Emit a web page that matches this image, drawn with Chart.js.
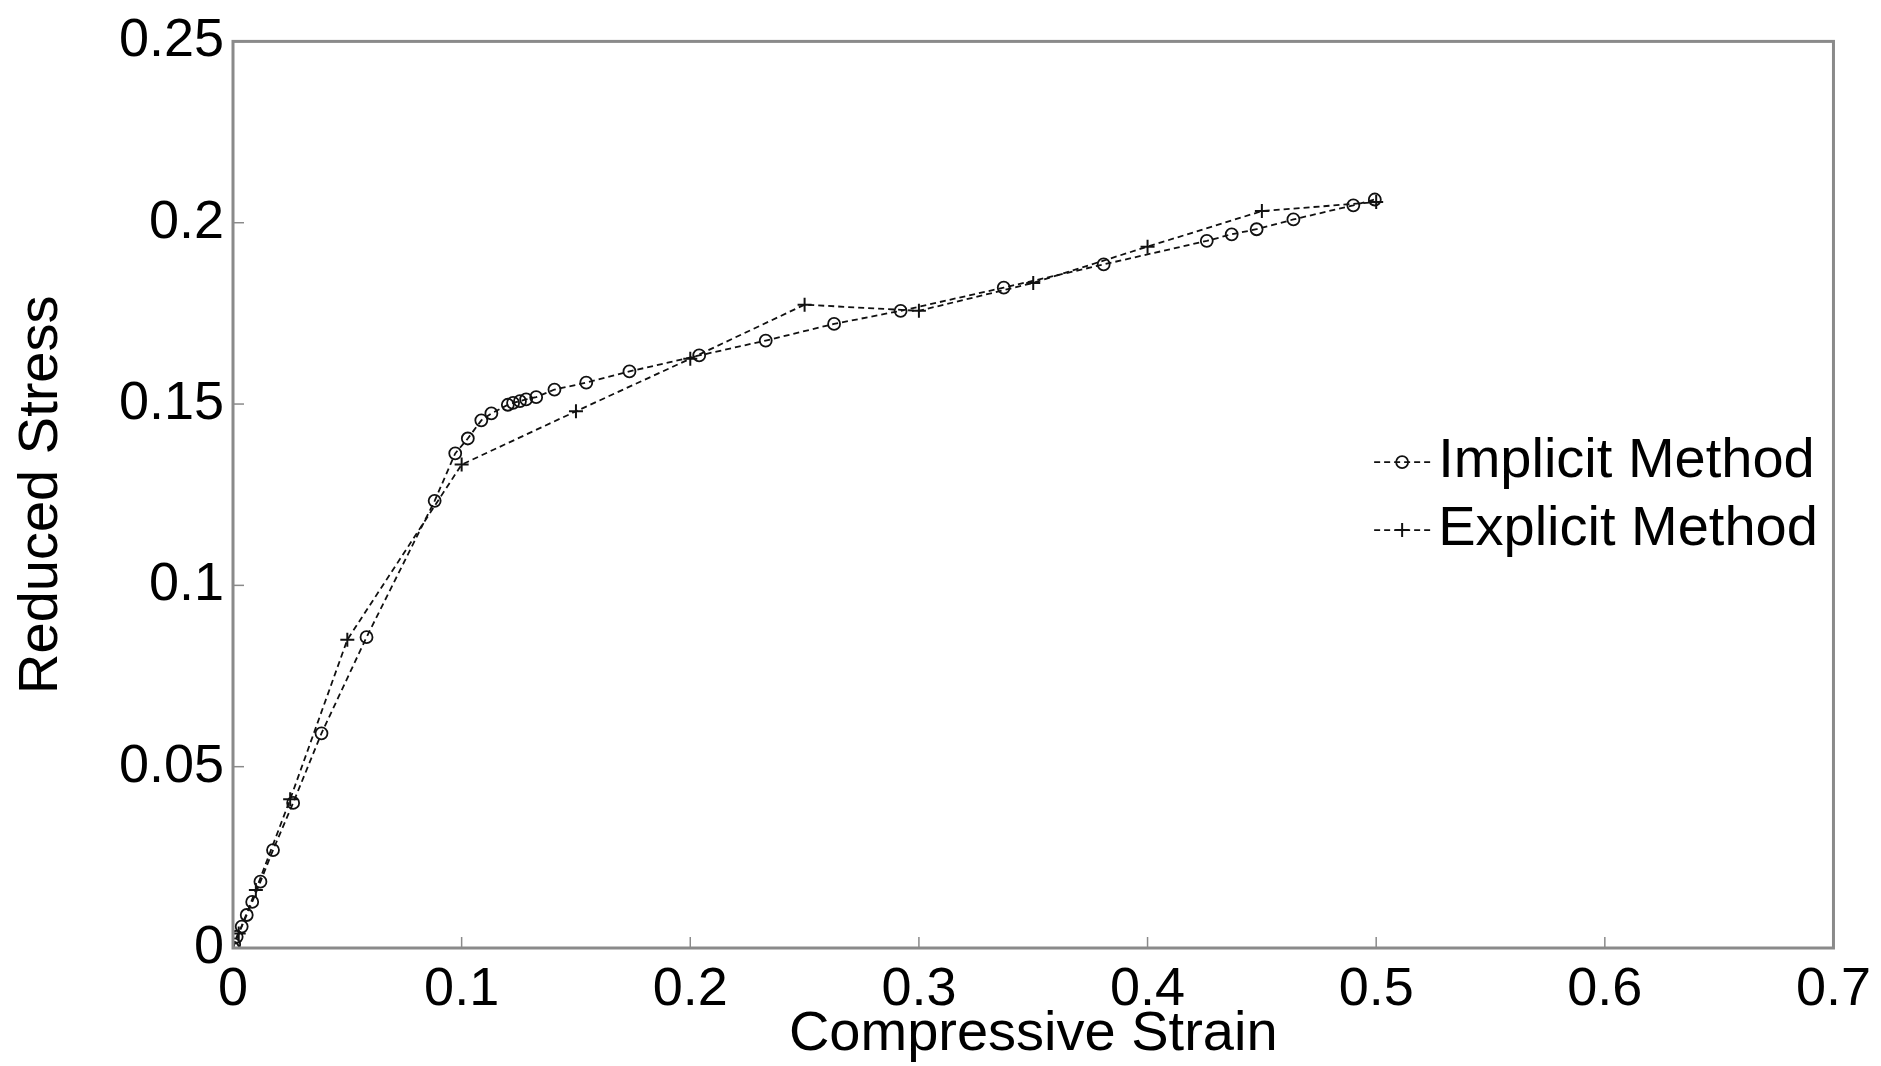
<!DOCTYPE html>
<html>
<head>
<meta charset="utf-8">
<title>Reduced Stress vs Compressive Strain</title>
<script src="https://cdn.jsdelivr.net/npm/chart.js@4/dist/chart.umd.min.js"></script>
<style>
    html, body { margin: 0; padding: 0; background: #fff; }
    #wrap { width: 1881px; height: 1066px; }
</style>
</head>
<body>
<div id="wrap"><canvas id="chart"></canvas></div>
<script>
// values
const implicitStrain = [0, 0.0005, 0.0016, 0.0038, 0.006, 0.0084, 0.012, 0.0175, 0.0263, 0.0387, 0.0584, 0.0882,
    0.0972, 0.1027, 0.1086, 0.113, 0.1202, 0.1225, 0.1255, 0.1282, 0.1326, 0.1406, 0.1545, 0.1734,
    0.2039, 0.233, 0.2629, 0.292, 0.3371, 0.3808, 0.4259, 0.4368, 0.4477, 0.4638, 0.49, 0.4994];
const implicitStress = [0, 0.001, 0.0031, 0.0059, 0.0091, 0.0127, 0.0183, 0.027, 0.04, 0.0592, 0.0857, 0.1233,
    0.1364, 0.1405, 0.1455, 0.1474, 0.1498, 0.1503, 0.1508, 0.1513, 0.1519, 0.154, 0.1559, 0.159,
    0.1634, 0.1675, 0.1721, 0.1757, 0.1821, 0.1885, 0.195, 0.1968, 0.1982, 0.2009, 0.2048, 0.2064];

const explicitStrain = [0, 0.0025, 0.01, 0.025, 0.05, 0.1, 0.15, 0.2, 0.25, 0.3, 0.35, 0.4, 0.45, 0.5];
const explicitStress = [0, 0.004, 0.016, 0.041, 0.085, 0.1333, 0.148, 0.1625, 0.1774, 0.1757, 0.1834, 0.1934, 0.2032, 0.2057];

const xTicks = [0, 0.1, 0.2, 0.3, 0.4, 0.5, 0.6, 0.7];
const yTicks = [0, 0.05, 0.1, 0.15, 0.2, 0.25];
const seriesNames = ["Implicit Method", "Explicit Method"];

function pairs(xs, ys) {
    return xs.map((x, i) => ({ x: x, y: ys[i] }));
}

const FONT = "'Liberation Sans', Arial, sans-serif";
const FRAME = "#8a8a8a";

// box round the plot, inward tick marks, legend inside the plot
const framePlugin = {
    id: "frame",
    afterDatasetsDraw(chart) {
        const ctx = chart.ctx;
        const a = chart.chartArea;
        const xs = chart.scales.x, ys = chart.scales.y;
        ctx.save();
        ctx.strokeStyle = FRAME;
        ctx.lineWidth = 1.5;
        xTicks.forEach(v => {
            const px = xs.getPixelForValue(v);
            ctx.beginPath();
            ctx.moveTo(px, a.bottom);
            ctx.lineTo(px, a.bottom - 11);
            ctx.stroke();
        });
        yTicks.forEach(v => {
            const py = ys.getPixelForValue(v);
            ctx.beginPath();
            ctx.moveTo(a.left, py);
            ctx.lineTo(a.left + 11, py);
            ctx.stroke();
        });
        ctx.lineWidth = 3;
        ctx.strokeRect(a.left, a.top, a.right - a.left, a.bottom - a.top);

        // legend
        const lx = a.left + (a.right - a.left) * 0.713;
        const rows = [a.top + (a.bottom - a.top) * 0.464, a.top + (a.bottom - a.top) * 0.539];
        chart.data.datasets.forEach((ds, i) => {
            const y = rows[i];
            ctx.strokeStyle = ds.borderColor;
            ctx.lineWidth = ds.borderWidth;
            ctx.setLineDash(ds.borderDash);
            ctx.beginPath();
            ctx.moveTo(lx, y);
            ctx.lineTo(lx + 56, y);
            ctx.stroke();
            ctx.setLineDash([]);
            ctx.fillStyle = "rgba(0,0,0,0)";
            ctx.strokeStyle = ds.pointBorderColor;
            ctx.lineWidth = ds.pointBorderWidth;
            Chart.helpers.drawPoint(ctx, {
                pointStyle: ds.pointStyle,
                radius: ds.pointRadius,
                borderWidth: ds.pointBorderWidth,
                rotation: 0
            }, lx + 28, y);
            ctx.fillStyle = "#000";
            ctx.font = "56px " + FONT;
            ctx.textAlign = "left";
            ctx.textBaseline = "middle";
            ctx.fillText(ds.label, lx + 64, y);
        });
        ctx.restore();
    }
};

new Chart(document.getElementById("chart"), {
    type: "scatter",
    data: {
        datasets: [{
            label: seriesNames[0],
            data: pairs(implicitStrain, implicitStress),
            showLine: true,
            borderColor: "#111",
            borderWidth: 1.8,
            borderDash: [6, 4],
            pointStyle: "circle",
            pointRadius: 6,
            pointBorderWidth: 1.8,
            pointBorderColor: "#111",
            pointBackgroundColor: "rgba(0,0,0,0)",
            tension: 0
        }, {
            label: seriesNames[1],
            data: pairs(explicitStrain, explicitStress),
            showLine: true,
            borderColor: "#111",
            borderWidth: 1.8,
            borderDash: [6, 4],
            pointStyle: "cross",
            pointRadius: 7,
            pointBorderWidth: 2,
            pointBorderColor: "#111",
            pointBackgroundColor: "rgba(0,0,0,0)",
            tension: 0
        }]
    },
    options: {
        responsive: true,
        maintainAspectRatio: false,
        animation: false,
        layout: { padding: { left: 0, right: 45, top: 38, bottom: 0 } },
        plugins: {
            legend: { display: false },
            tooltip: { enabled: false }
        },
        scales: {
            x: {
                type: "linear",
                min: 0,
                max: 0.7,
                afterBuildTicks: s => { s.ticks = xTicks.map(v => ({ value: v })); },
                afterFit: s => { s.height = 118; },
                grid: { display: false, drawTicks: false },
                border: { display: false },
                ticks: {
                    color: "#000",
                    padding: 10,
                    maxRotation: 0,
                    font: { family: FONT, size: 54 },
                    callback: v => String(+v.toFixed(2))
                },
                title: {
                    display: true,
                    text: "Compressive Strain",
                    color: "#000",
                    font: { family: FONT, size: 56 },
                    padding: { top: 0, bottom: -2 }
                }
            },
            y: {
                type: "linear",
                min: 0,
                max: 0.25,
                afterBuildTicks: s => { s.ticks = yTicks.map(v => ({ value: v })); },
                afterFit: s => { s.width = 233; },
                grid: { display: false, drawTicks: false },
                border: { display: false },
                ticks: {
                    color: "#000",
                    padding: 9,
                    font: { family: FONT, size: 54 },
                    callback: v => String(+v.toFixed(2))
                },
                title: {
                    display: true,
                    text: "Reduced Stress",
                    color: "#000",
                    font: { family: FONT, size: 56 },
                    padding: { top: 8, bottom: 0 }
                }
            }
        }
    },
    plugins: [framePlugin]
});
</script>
</body>
</html>
